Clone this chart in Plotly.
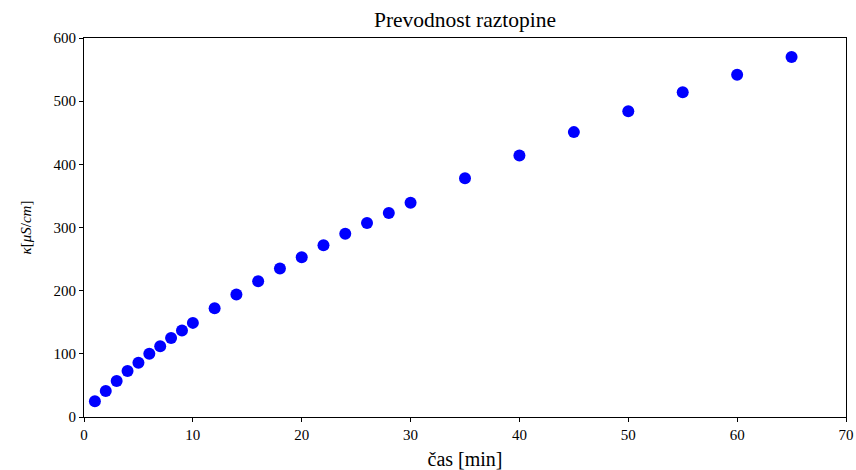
import plotly.graph_objects as go

cas = [1, 2, 3, 4, 5, 6, 7, 8, 9, 10, 12, 14, 16, 18, 20, 22, 24, 26, 28, 30,
       35, 40, 45, 50, 55, 60, 65]
kappa = [25, 41, 57, 73, 86, 100, 112, 125, 137, 149, 172, 194, 215, 235, 253,
         272, 290, 307, 323, 339, 378, 414, 451, 484, 514, 542, 570]

x_ticks = [0, 10, 20, 30, 40, 50, 60, 70]
y_ticks = [0, 100, 200, 300, 400, 500, 600]

font_family = "'Liberation Serif', 'DejaVu Serif', serif"

fig = go.Figure()
fig.add_trace(go.Scatter(
    x=cas, y=kappa, mode="markers",
    marker=dict(color="#0000ff", size=12, line=dict(width=0)),
    showlegend=False,
))

axis_common = dict(
    showgrid=False, zeroline=False, showline=True, linecolor="black",
    linewidth=1.2, mirror=True, ticks="outside", ticklen=4, tickwidth=1,
    tickcolor="black", automargin=False,
    tickfont=dict(size=15, color="black", family=font_family),
)

fig.update_layout(
    width=856, height=470,
    margin=dict(l=84, r=10, t=38, b=53),
    paper_bgcolor="white", plot_bgcolor="white",
    font=dict(family=font_family, color="black"),
    title=dict(text="Prevodnost raztopine", xref="paper", x=0.5, xanchor="center",
               y=0.958, yanchor="middle", font=dict(size=21.5, family=font_family)),
    xaxis=dict(range=[0, 70], tickvals=x_ticks,
               title=dict(text="čas [min]", font=dict(size=20, family=font_family), standoff=9),
               **axis_common),
    yaxis=dict(range=[0, 600], tickvals=y_ticks,
               title=dict(text="<i>κ</i>[<i>μS</i>/<i>cm</i>]", font=dict(size=15, family=font_family), standoff=18),
               **axis_common),
)

fig.write_html(
    "out.html",
    config={"displayModeBar": False},
    post_script="document.body.style.margin='0';document.body.style.overflow='hidden';",
)
